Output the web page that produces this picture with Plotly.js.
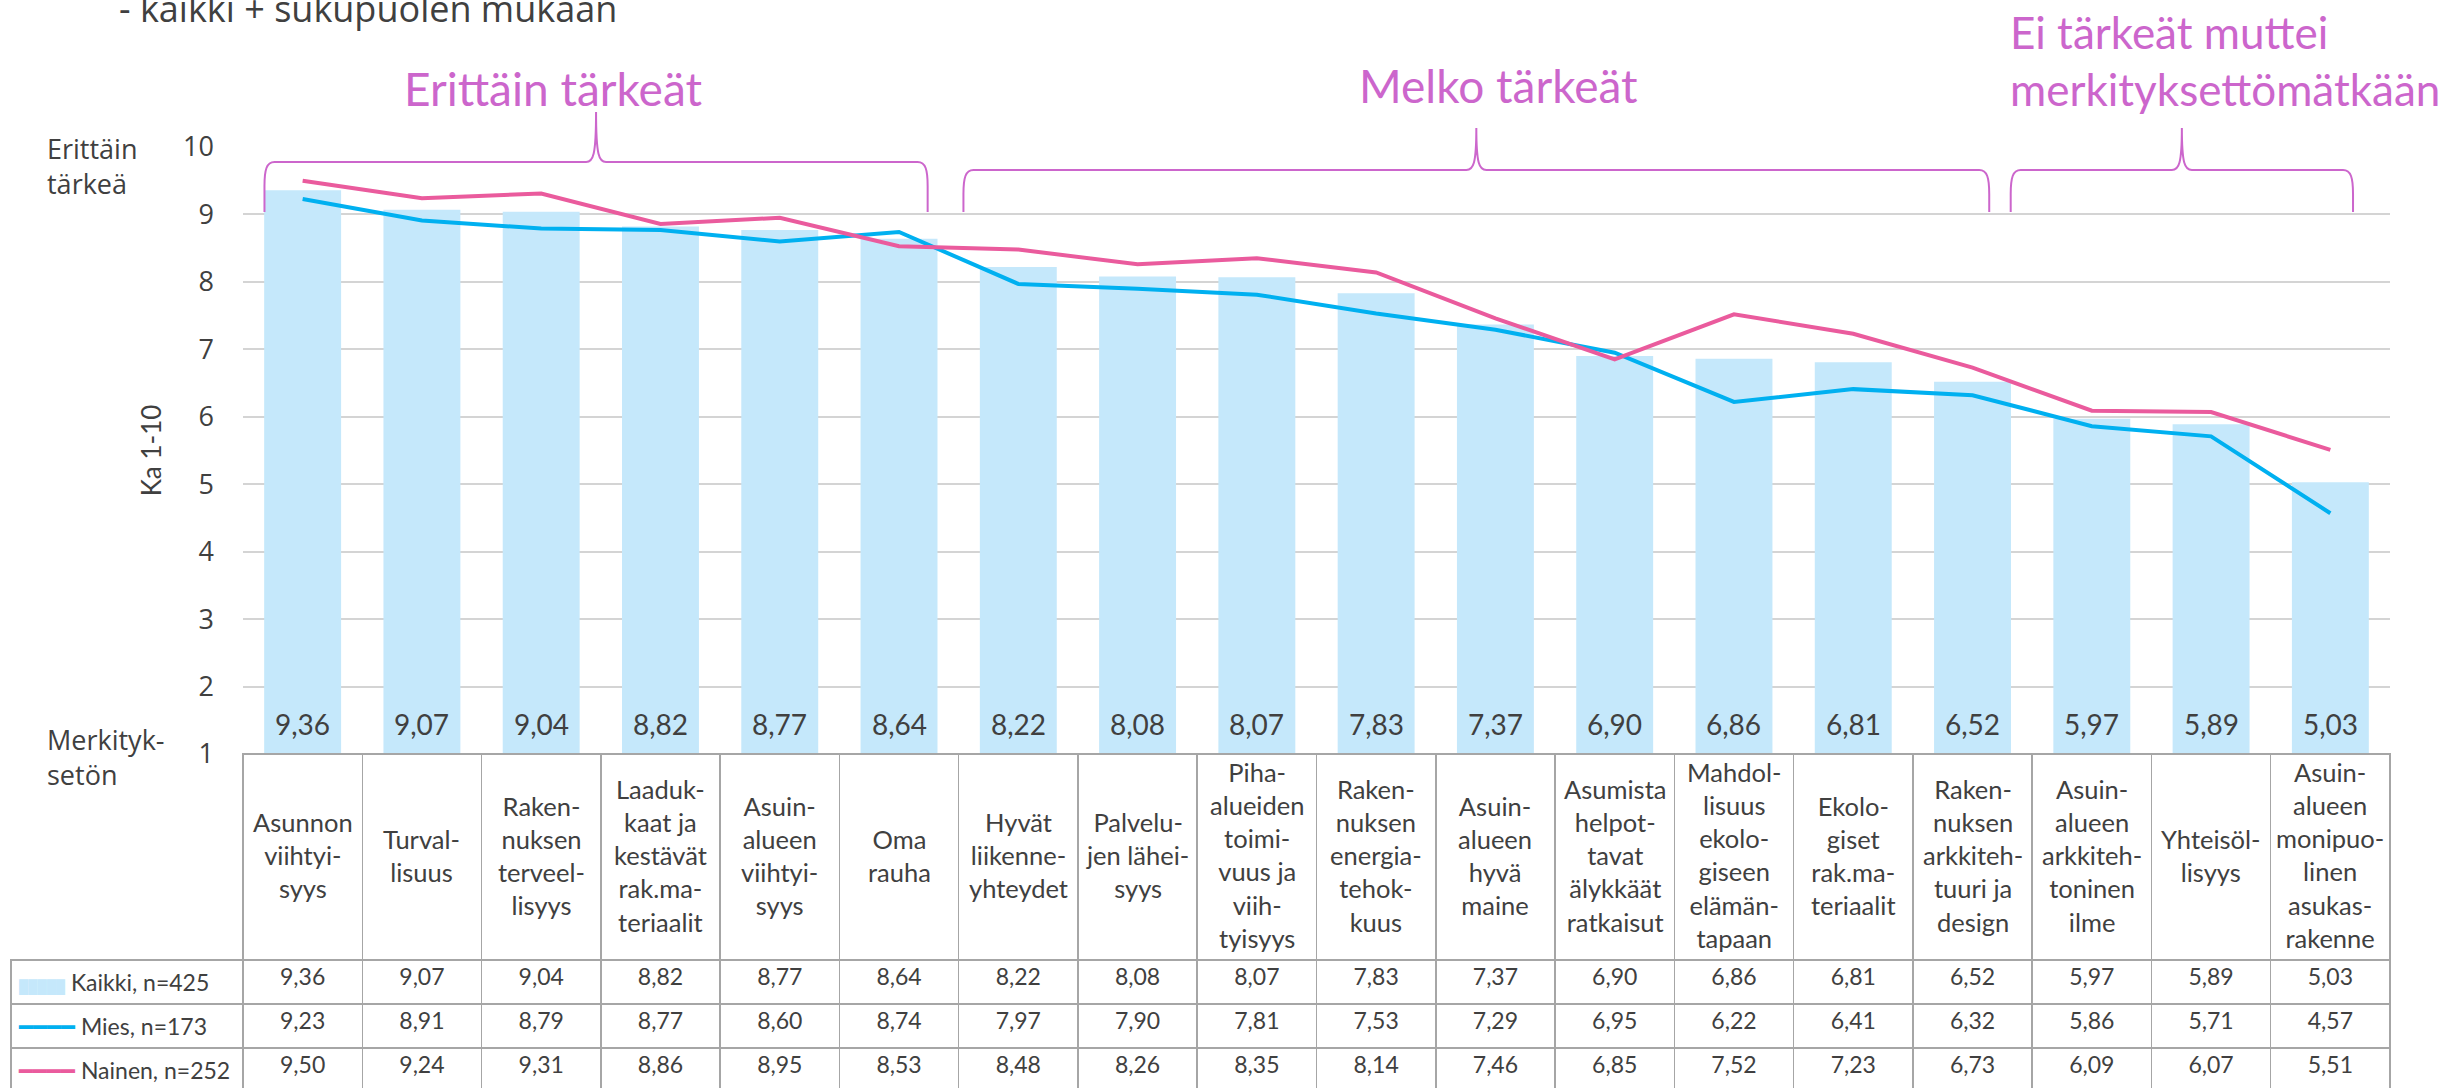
<!DOCTYPE html>
<html><head><meta charset="utf-8">
<script src="https://cdn.plot.ly/plotly-3.0.1.min.js"></script>
<style>html,body{margin:0;padding:0;background:#fff;}#chart{width:2459px;height:1089px;}</style>
</head><body><div id="chart"></div>
<script>
// ---------- data ----------
const categories = ["Asunnon viihtyisyys","Turvallisuus","Rakennuksen terveellisyys","Laadukkaat ja kestävät rak.materiaalit","Asuinalueen viihtyisyys","Oma rauha","Hyvät liikenneyhteydet","Palvelujen läheisyys","Piha-alueiden toimivuus ja viihtyisyys","Rakennuksen energiatehokkuus","Asuinalueen hyvä maine","Asumista helpottavat älykkäät ratkaisut","Mahdollisuus ekologiseen elämäntapaan","Ekologiset rak.materiaalit","Rakennuksen arkkitehtuuri ja design","Asuinalueen arkkitehtoninen ilme","Yhteisöllisyys","Asuinalueen monipuolinen asukasrakenne"];
const headerLabels = ["Asunnon<br>viihtyi-<br>syys","Turval-<br>lisuus","Raken-<br>nuksen<br>terveel-<br>lisyys","Laaduk-<br>kaat ja<br>kestävät<br>rak.ma-<br>teriaalit","Asuin-<br>alueen<br>viihtyi-<br>syys","Oma<br>rauha","Hyvät<br>liikenne-<br>yhteydet","Palvelu-<br>jen lähei-<br>syys","Piha-<br>alueiden<br>toimi-<br>vuus ja<br>viih-<br>tyisyys","Raken-<br>nuksen<br>energia-<br>tehok-<br>kuus","Asuin-<br>alueen<br>hyvä<br>maine","Asumista<br>helpot-<br>tavat<br>älykkäät<br>ratkaisut","Mahdol-<br>lisuus<br>ekolo-<br>giseen<br>elämän-<br>tapaan","Ekolo-<br>giset<br>rak.ma-<br>teriaalit","Raken-<br>nuksen<br>arkkiteh-<br>tuuri ja<br>design","Asuin-<br>alueen<br>arkkiteh-<br>toninen<br>ilme","Yhteisöl-<br>lisyys","Asuin-<br>alueen<br>monipuo-<br>linen<br>asukas-<br>rakenne"];
const kaikki = [9.36,9.07,9.04,8.82,8.77,8.64,8.22,8.08,8.07,7.83,7.37,6.90,6.86,6.81,6.52,5.97,5.89,5.03];
const mies   = [9.23,8.91,8.79,8.77,8.60,8.74,7.97,7.90,7.81,7.53,7.29,6.95,6.22,6.41,6.32,5.86,5.71,4.57];
const nainen = [9.50,9.24,9.31,8.86,8.95,8.53,8.48,8.26,8.35,8.14,7.46,6.85,7.52,7.23,6.73,6.09,6.07,5.51];
const seriesNames = ["Kaikki, n=425","Mies, n=173","Nainen, n=252"];
const yTicks = [1,2,3,4,5,6,7,8,9,10];
const groupLabels = ["Erittäin tärkeät","Melko tärkeät","Ei tärkeät muttei<br>merkityksettömätkään"];
const titleText = "- kaikki + sukupuolen mukaan";
const yTopLabel = "Erittäin<br>tärkeä";
const yBottomLabel = "Merkityk-<br>setön";
const yAxisTitle = "Ka 1-10";

// ---------- styles / layout geometry ----------
const W = 2459, H = 1089;
const plotL = 243, plotR = 2390, plotT = 147, plotB = 754, tableL = 11;
const slot = (plotR - plotL) / categories.length;
const py = p => 1 - p / H;           // pixel row -> paper y
const px = p => p / W;               // pixel col -> paper x
const C = {bar:'#C5E8FB', mies:'#00B0F0', nainen:'#EA5B9D', text:'#404040', accent:'#CC66CC', grid:'#D4D4D4', border:'#A6A6A6'};
const fCal = 'Lato, "Open Sans", sans-serif';
const fSeg = '"Open Sans", Lato, sans-serif';
const fmt = v => v.toFixed(2).replace('.', ',');
const nb = s => s.replace(/ /g, '\u00a0');

// ---------- traces ----------
const bars = {type:'bar', x:categories, y:kaikki, name:seriesNames[0], marker:{color:C.bar}, showlegend:false, hoverinfo:'skip'};
const lMies = {type:'scatter', mode:'lines', x:categories, y:mies, name:seriesNames[1], line:{color:C.mies, width:4}, showlegend:false, hoverinfo:'skip'};
const lNainen = {type:'scatter', mode:'lines', x:categories, y:nainen, name:seriesNames[2], line:{color:C.nainen, width:4}, showlegend:false, hoverinfo:'skip'};

const legendCells = [
  `<span\nstyle="color:${C.bar};font-size:13px">█████</span>\u00a0${nb(seriesNames[0])}`,
  `<span\nstyle="color:${C.mies}">━━━━</span>\u00a0${nb(seriesNames[1])}`,
  `<span\nstyle="color:${C.nainen}">━━━━</span>\u00a0${nb(seriesNames[2])}`
];
const table = {
  type:'table',
  domain:{x:[px(tableL), px(plotR)], y:[0, py(plotB)]},
  columnwidth:[plotL - tableL].concat(categories.map(() => slot)),
  header:{
    values:[''].concat(categories.map(() => '')),
    height:206,
    fill:{color:['rgba(0,0,0,0)'].concat(categories.map(() => 'rgba(0,0,0,0)'))},
    line:{color:['rgba(0,0,0,0)'].concat(categories.map(() => C.border)), width:1.5}
  },
  cells:{
    values:[legendCells].concat(categories.map((c,i) => [fmt(kaikki[i]), fmt(mies[i]), fmt(nainen[i])])),
    height:41.3,
    align:['left'].concat(categories.map(() => 'center')),
    font:{family:fCal, size:23, color:C.text},
    line:{color:C.border, width:1.5},
    fill:{color:'white'}
  }
};

// ---------- annotations ----------
const ann = [];
categories.forEach((c,i) => ann.push({x:c, xref:'x', y:yTicks[0], yref:'y', yshift:30, yanchor:'middle', text:fmt(kaikki[i]), showarrow:false, font:{family:fCal, size:28, color:C.text}}));
categories.forEach((c,i) => ann.push({x:c, xref:'x', y:py(855), yref:'paper', yanchor:'middle', text:headerLabels[i], showarrow:false, align:'center', font:{family:fCal, size:25.5, color:C.text}}));
ann.push({x:px(117), xref:'paper', y:py(35), yref:'paper', xanchor:'left', yanchor:'bottom', text:titleText, showarrow:false, font:{family:fSeg, size:36, color:C.text}});
ann.push({x:px(45), xref:'paper', y:py(166), yref:'paper', xanchor:'left', yanchor:'middle', align:'left', text:yTopLabel, showarrow:false, font:{family:fSeg, size:27, color:C.text}});
ann.push({x:px(45), xref:'paper', y:py(757), yref:'paper', xanchor:'left', yanchor:'middle', align:'left', text:yBottomLabel, showarrow:false, font:{family:fSeg, size:27, color:C.text}});
ann.push({x:px(553), xref:'paper', y:py(118), yref:'paper', xanchor:'center', yanchor:'bottom', text:groupLabels[0], showarrow:false, font:{family:fCal, size:46, color:C.accent}});
ann.push({x:px(1498), xref:'paper', y:py(115), yref:'paper', xanchor:'center', yanchor:'bottom', text:groupLabels[1], showarrow:false, font:{family:fCal, size:46, color:C.accent}});
ann.push({x:px(2008), xref:'paper', y:py(117), yref:'paper', xanchor:'left', yanchor:'bottom', align:'left', text:groupLabels[2], showarrow:false, font:{family:fCal, size:44, color:C.accent}});

// ---------- braces ----------
const braceSpecs = [
  {a:-0.32, b:5.24, yl:162, yt:112, ye:212},
  {a:5.54, b:14.14, yl:170, yt:128, ye:212},
  {a:14.32, b:17.19, yl:170, yt:128, ye:212}
];
function bracePath(s) {
  const X = (i, off) => (i + off / slot).toFixed(4);
  const Y = p => py(p).toFixed(5);
  const m = (s.a + s.b) / 2;
  return `M${X(s.a,0)},${Y(s.ye)} L${X(s.a,0)},${Y(s.yl+24)} C${X(s.a,0)},${Y(s.yl+8)} ${X(s.a,2)},${Y(s.yl)} ${X(s.a,10)},${Y(s.yl)} ` +
         `L${X(m,-10)},${Y(s.yl)} C${X(m,-3)},${Y(s.yl)} ${X(m,0)},${Y(s.yl-6)} ${X(m,0)},${Y(s.yt)} ` +
         `C${X(m,0)},${Y(s.yl-6)} ${X(m,3)},${Y(s.yl)} ${X(m,10)},${Y(s.yl)} ` +
         `L${X(s.b,-10)},${Y(s.yl)} C${X(s.b,-2)},${Y(s.yl)} ${X(s.b,0)},${Y(s.yl+8)} ${X(s.b,0)},${Y(s.yl+24)} L${X(s.b,0)},${Y(s.ye)}`;
}
const shapes = braceSpecs.map(s => ({type:'path', xref:'x', yref:'paper', path:bracePath(s), line:{color:C.accent, width:2}, layer:'above'}));

const layout = {
  width:W, height:H, margin:{l:0, r:0, t:0, b:0},
  paper_bgcolor:'white', plot_bgcolor:'white',
  separators:', ',
  font:{family:fCal, color:C.text},
  bargap:0.355,
  showlegend:false,
  hovermode:false,
  xaxis:{domain:[px(plotL), px(plotR)], type:'category', range:[-0.5, categories.length - 0.5], showticklabels:false, showgrid:false, zeroline:false, showline:false, ticks:''},
  yaxis:{domain:[py(plotB), py(plotT)], range:[yTicks[0], yTicks[yTicks.length-1]], tickvals:yTicks, showgrid:true, gridcolor:C.grid, gridwidth:2, zeroline:false, showline:false, ticks:'', ticklabelstandoff:28,
         tickfont:{family:fSeg, size:27, color:C.text}, title:{text:yAxisTitle, font:{family:fCal, size:26, color:C.text}, standoff:14}},
  annotations:ann,
  shapes:shapes
};

Plotly.newPlot('chart', [bars, lMies, lNainen, table], layout, {displayModeBar:false, staticPlot:true});
</script></body></html>
